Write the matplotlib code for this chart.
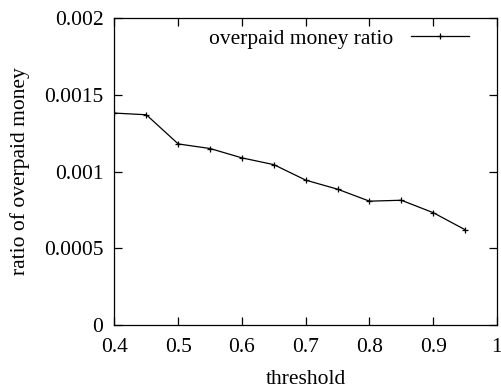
import matplotlib.pyplot as plt

plt.rcParams['font.family'] = ['Liberation Serif', 'DejaVu Serif']
plt.rcParams['font.size'] = 15.5

# overpaid money ratio vs threshold
threshold = [0.4, 0.45, 0.5, 0.55, 0.6, 0.65, 0.7, 0.75, 0.8, 0.85, 0.9, 0.95]
overpaid_ratio = [0.001381, 0.00137, 0.00118, 0.00115, 0.001089, 0.001045,
                  0.000944, 0.000885, 0.000807, 0.000813, 0.000732, 0.000621]

x_ticks = [0.4, 0.5, 0.6, 0.7, 0.8, 0.9, 1.0]
x_tick_labels = ['0.4', '0.5', '0.6', '0.7', '0.8', '0.9', '1']
y_ticks = [0, 0.0005, 0.001, 0.0015, 0.002]
y_tick_labels = ['0', '0.0005', '0.001', '0.0015', '0.002']

fig = plt.figure(figsize=(5.02, 3.89), dpi=100)
ax = fig.add_axes([0.228, 0.1645, 0.762, 0.789])

ax.plot(threshold, overpaid_ratio, color='black', linewidth=0.9,
        marker='+', markersize=5, markeredgewidth=0.9,
        label='overpaid money ratio')

ax.set_xlim(0.4, 1.0)
ax.set_ylim(0, 0.002)
ax.set_xticks(x_ticks)
ax.set_xticklabels(x_tick_labels)
ax.set_yticks(y_ticks)
ax.set_yticklabels(y_tick_labels)
ax.tick_params(direction='in', top=True, right=True, length=6, width=0.9)
ax.tick_params(axis='x', pad=9)
ax.tick_params(axis='y', pad=8)
for s in ax.spines.values():
    s.set_linewidth(0.9)

ax.set_xlabel('threshold', labelpad=10)
ax.set_ylabel('ratio of overpaid money', labelpad=10)

ax.legend(loc='upper right', frameon=False, markerfirst=False,
          handlelength=2.7, borderaxespad=0.1, handletextpad=0.8,
          bbox_to_anchor=(0.955, 1.0))

fig.savefig('out.png', dpi=100)
